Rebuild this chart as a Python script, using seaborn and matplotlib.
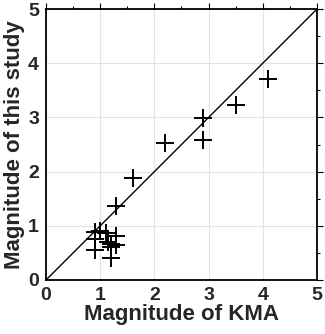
import matplotlib
matplotlib.use("Agg")
import matplotlib.pyplot as plt
import seaborn as sns
import pandas as pd
from matplotlib.ticker import MultipleLocator

# Magnitudes: KMA catalogue vs. this study
mag_kma = [4.1, 3.5, 2.9, 2.9, 2.2, 1.6, 1.3,
           0.9, 0.9, 0.9, 1.0, 1.1, 1.15, 1.2, 1.2, 1.3, 1.3, 1.2]
mag_study = [3.71, 3.22, 2.98, 2.59, 2.52, 1.89, 1.37,
             0.88, 0.76, 0.55, 0.90, 0.86, 0.70, 0.60, 0.40, 0.82, 0.65, 0.66]

df = pd.DataFrame({"kma": mag_kma, "study": mag_study})

sns.set_style("white")
plt.rcParams["font.family"] = ["Liberation Sans", "DejaVu Sans"]

fig = plt.figure(figsize=(3.25, 3.34), dpi=100)
ax = fig.add_axes([46 / 325, 1 - 280 / 334, 271 / 325, 271 / 334])

ax.plot([0, 5], [0, 5], color="black", lw=1.0, zorder=2)
sns.scatterplot(data=df, x="kma", y="study", marker="+", s=180,
                color="black", linewidth=1.4, ax=ax, zorder=3)

ax.set_xlim(0, 5)
ax.set_ylim(0, 5)
ax.xaxis.set_major_locator(MultipleLocator(1))
ax.yaxis.set_major_locator(MultipleLocator(1))
ax.xaxis.set_minor_locator(MultipleLocator(0.5))
ax.yaxis.set_minor_locator(MultipleLocator(0.5))
ax.grid(True, which="major", color="#e3e3e3", lw=0.8, zorder=0)
ax.set_axisbelow(True)
for s in ax.spines.values():
    s.set_color("black")
    s.set_linewidth(1.3)
ax.tick_params(which="both", direction="out", top=True, right=True,
               color="black", width=0.8)
ax.tick_params(which="major", length=4, labelsize=14, pad=1)
ax.tick_params(which="minor", length=2)
for lab in ax.get_xticklabels() + ax.get_yticklabels():
    lab.set_fontweight("bold")

ax.set_xlabel("Magnitude of KMA", fontsize=16, fontweight="bold", labelpad=0)
ax.set_ylabel("Magnitude of this study", fontsize=16, fontweight="bold", labelpad=2)

fig.savefig("out.png", dpi=100)
